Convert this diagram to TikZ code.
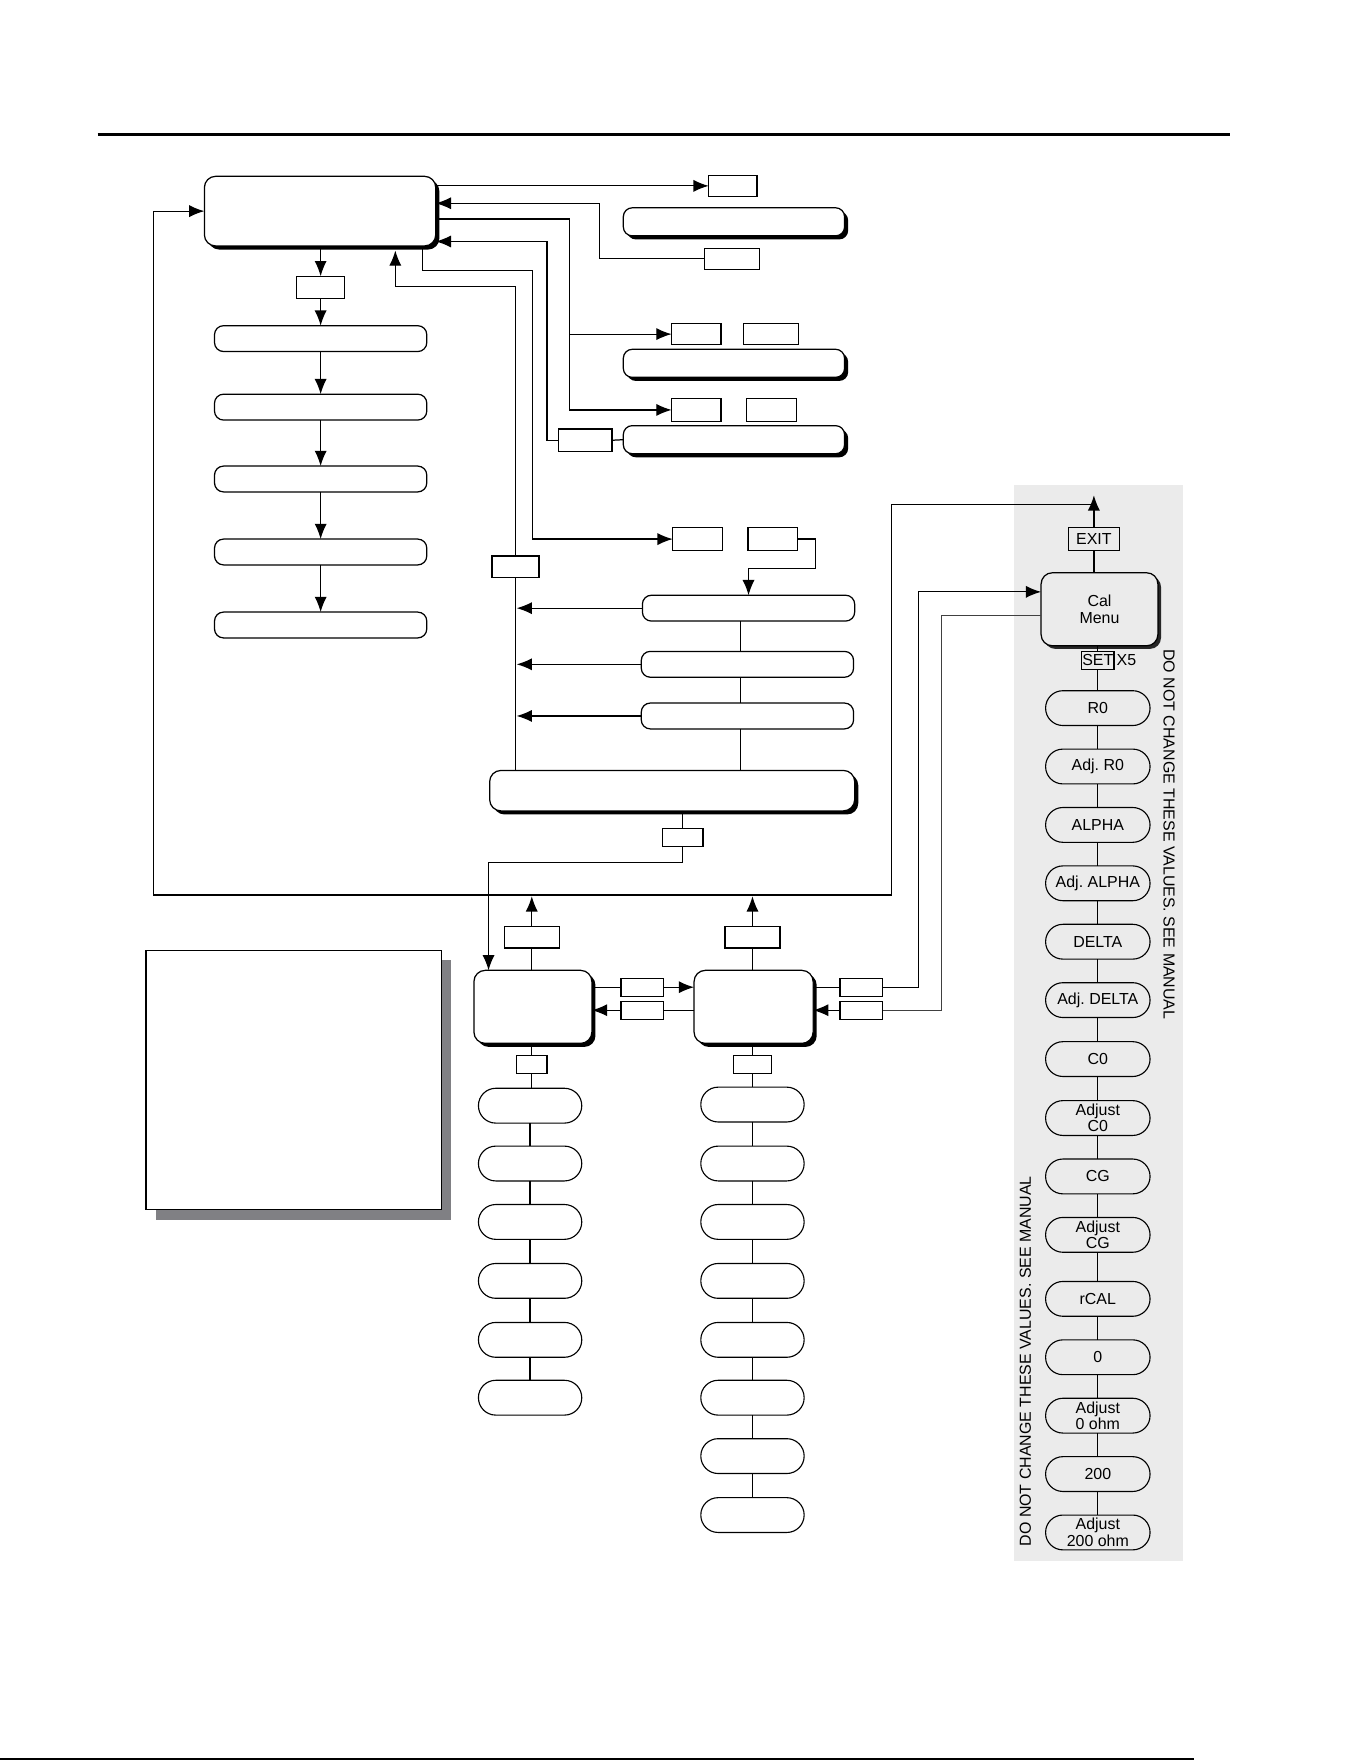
\documentclass[tikz,border=0pt]{standalone}
\usepackage{fontspec}
\setmainfont{Liberation Sans}
\usetikzlibrary{arrows.meta,shadows}
\definecolor{pg}{HTML}{EBEBEB}
\definecolor{shg}{HTML}{808084}
\frenchspacing
\begin{document}
\begin{tikzpicture}[x=0.5pt,y=-0.5pt,
  every node/.style={font=\fontsize{7.1}{7.3}\selectfont, inner sep=0pt, outer sep=0pt},
  ln/.style={line width=0.55pt, black},
  arr/.style={ln, -{Latex[length=6.8pt,width=5.4pt]}},
  sq/.style={draw, line width=0.55pt, fill=white},
  rbox/.style={draw, line width=0.55pt, fill=white, rounded corners=4pt},
  sbox/.style={rbox, drop shadow={shadow xshift=1.6pt, shadow yshift=-1.6pt, fill=black, opacity=1}},
  oval/.style={draw, line width=0.5pt, fill=white, rounded corners=7.7pt, minimum width=46pt, minimum height=15.5pt, align=center},
  poval/.style={oval, fill=pg, minimum width=46.5pt},
]
\useasboundingbox (0,0) rectangle (1212,1568);
% rules
\draw[line width=1.4pt] (87,120) -- (1095,120);
\draw[line width=0.9pt] (0,1566.5) -- (1063,1566.5);

% ---------------- top left column ----------------
\node[sbox, rounded corners=5pt, minimum width=103pt, minimum height=31pt] (A) at (285,188) {};
\node[sq, minimum width=21.5pt, minimum height=10pt] (B1) at (285.5,256) {};
\foreach \n/\y in {R1/301.5,R2/362.5,R3/426.5,R4/491.5,R5/556.5}
  \node[rbox, minimum width=94.5pt, minimum height=11.5pt] (\n) at (285.5,\y) {};
\draw[arr] (A.south -| B1) -- (B1.north);
\draw[arr] (B1.south) -- (R1.north);
\draw[arr] (R1.south) -- (R2.north);
\draw[arr] (R2.south) -- (R3.north);
\draw[arr] (R3.south) -- (R4.north);
\draw[arr] (R4.south) -- (R5.north);

% ---------------- top right group ----------------
\node[sq, minimum width=21.5pt, minimum height=9.5pt] (T1) at (652.5,165.5) {};
\node[sbox, minimum width=98.5pt, minimum height=12.5pt] (W1) at (653.5,197.5) {};
\node[sq, minimum width=24.5pt, minimum height=9.5pt] (T2) at (651.5,230.5) {};
\node[sq, minimum width=22pt, minimum height=9.5pt] (P1) at (620,297.5) {};
\node[sq, minimum width=24.5pt, minimum height=9.5pt] (P2) at (686.5,297.5) {};
\node[sbox, minimum width=98.5pt, minimum height=12.5pt] (W2) at (653.5,323.5) {};
\node[sq, minimum width=22pt, minimum height=10pt] (Q1) at (620,365) {};
\node[sq, minimum width=22pt, minimum height=10pt] (Q2) at (687,365) {};
\node[sbox, minimum width=98.5pt, minimum height=12.5pt] (W3) at (653.5,391.5) {};
\node[sq, minimum width=24pt, minimum height=10pt] (Q3) at (521,392) {};

\draw[arr] (A.east |- T1.west) -- (T1.west);
\draw[arr] (T2.west) -| (534,181) -- (A.east |- 534,181);
\draw[arr] (A.east |- 0,195) -| (507,365) -- (Q1.west);
\draw[arr] (507,297.5) -- (P1.west);
\draw[ln] (W3.west) -- (Q3.east);
\draw[arr] (Q3.west) -| (487,215) -- (A.east |- 487,215);

% ---------------- middle group ----------------
\node[sq, minimum width=22pt, minimum height=10pt] (S1) at (621,480) {};
\node[sq, minimum width=22pt, minimum height=10pt] (S2) at (688,480) {};
\node[sq, minimum width=21pt, minimum height=9.5pt] (L1) at (459,504.5) {};
\node[rbox, minimum width=94.5pt, minimum height=11.5pt] (RR1) at (666.5,541.5) {};
\node[rbox, minimum width=94.5pt, minimum height=11.5pt] (RR2) at (665.5,591.5) {};
\node[rbox, minimum width=94.5pt, minimum height=11.5pt] (RR3) at (665.5,637.5) {};
\node[sbox, rounded corners=5pt, minimum width=162.5pt, minimum height=18pt] (BB) at (598.5,704) {};
\node[sq, minimum width=18pt, minimum height=8pt] (U1) at (608,746) {};
\coordinate (vx) at (659,0);

\draw[arr] (376,219) |- (474,241) -- (474,480) -- (S1.west);
\draw[arr] (S2.east) -| (726,506) -| (RR1.north);
\draw[ln] (BB.north -| L1.south) -- (L1.south);
\draw[arr] (L1.north) |- (352,255) -- (352,223);
\draw[arr] (RR1.west) -- (RR1.west -| 460,0);
\draw[arr] (RR2.west) -- (RR2.west -| 460,0);
\draw[arr] (RR3.west) -- (RR3.west -| 460,0);
\draw[ln] (RR1.south -| vx) -- (RR2.north -| vx);
\draw[ln] (RR2.south -| vx) -- (RR3.north -| vx);
\draw[ln] (RR3.south -| vx) -- (BB.north -| vx);
\draw[ln] (BB.south -| U1) -- (U1.north);

% ---------------- bottom group ----------------
\node[draw, line width=0.55pt, fill=white, minimum width=131.5pt, minimum height=115.5pt,
  drop shadow={shadow xshift=4.5pt, shadow yshift=-4.5pt, fill=shg, opacity=1}] (N) at (261.5,961.5) {};
\node[sbox, rounded corners=5pt, minimum width=52.5pt, minimum height=32.5pt] (C1) at (474.5,896.5) {};
\node[sbox, rounded corners=5pt, minimum width=53pt, minimum height=32.5pt] (C2) at (671,896.5) {};
\node[sq, minimum width=24.5pt, minimum height=9.5pt] (E1) at (473.5,834.5) {};
\node[sq, minimum width=24.5pt, minimum height=9.5pt] (E2) at (670,834.5) {};
\node[sq, minimum width=19pt, minimum height=8pt] (M1) at (572,879) {};
\node[sq, minimum width=19pt, minimum height=8pt] (M2) at (572,899.5) {};
\node[sq, minimum width=19pt, minimum height=8pt] (M3) at (767,879) {};
\node[sq, minimum width=19pt, minimum height=8pt] (M4) at (767,899.5) {};
\node[sq, minimum width=13.5pt, minimum height=8pt] (D1) at (473.5,948) {};
\node[sq, minimum width=17pt, minimum height=8pt] (D2) at (670,948) {};
\foreach \n/\y in {1/984.5,2/1036,3/1088,4/1140.5,5/1193,6/1244.5}
  \node[oval] (LO\n) at (472,\y) {};
\foreach \n/\y in {1/983.5,2/1036,3/1088,4/1140.5,5/1193,6/1244.5,7/1296.5,8/1349}
  \node[oval] (RO\n) at (670,\y) {};

\draw[arr] (U1.south) |- (435,768) -- (C1.north -| 435,0);
\draw[ln] (C1.north -| E1) -- (E1.south);
\draw[arr] (E1.north) -- (E1.north |- 0,798);
\draw[ln] (C2.north -| E2) -- (E2.south);
\draw[arr] (E2.north) -- (E2.north |- 0,798);
\draw[ln] (C1.east |- M1) -- (M1.west);
\draw[arr] (M1.east) -- (C2.west |- M1);
\draw[ln] (C2.west |- M2) -- (M2.east);
\draw[arr] (M2.west) -- (C1.east |- M2);
\draw[ln] (C1.south -| D1) -- (D1.north);
\draw[ln] (D1.south) -- (LO1.north -| D1);
\draw[ln] (C2.south -| D2) -- (D2.north);
\draw[ln] (D2.south) -- (RO1.north -| D2);
\foreach \a/\b in {1/2,2/3,3/4,4/5,5/6} \draw[ln] (LO\a.south) -- (LO\b.north);
\foreach \a/\b in {1/2,2/3,3/4,4/5,5/6,6/7,7/8} \draw[ln] (RO\a.south) -- (RO\b.north);

% ---------------- calibration panel ----------------
\fill[pg] (903,432) rectangle (1053,1390);
\node[draw, line width=0.5pt, fill=pg, minimum width=23pt, minimum height=10pt] (EXIT) at (974,480) {EXIT};
\node[draw, line width=0.55pt, fill=pg, rounded corners=5pt, minimum width=52pt, minimum height=32.5pt, align=center,
  drop shadow={shadow xshift=1.4pt, shadow yshift=-1.4pt, fill=black!85, opacity=1}] (Cal) at (979,542.5) {Cal\\Menu};
\node[draw, line width=0.5pt, inner xsep=0.3pt, minimum height=8pt] (SET) at (977.5,588) {SET};
\node[anchor=west] (X5) at (SET.east) {\,X5};
\foreach \n/\y/\t in {1/630.5/R0, 2/682.5/Adj. R0, 3/734.5/ALPHA, 4/786.5/Adj. ALPHA, 5/838.5/DELTA,
  6/890.5/Adj. DELTA, 7/943/C0, 8/995.5/Adjust\\C0, 9/1047.5/CG, 10/1099.5/Adjust\\CG,
  11/1156.5/rCAL, 12/1208.5/0, 13/1260.5/Adjust\\0 ohm, 14/1312.5/200, 15/1364.5/Adjust\\200 ohm}
  \node[poval] (PO\n) at (977.5,\y) {\t};
\node[rotate=-90] (vt1) at (1041,743) {DO NOT CHANGE THESE VALUES. SEE MANUAL};
\node[rotate=90] (vt2) at (913,1212) {DO NOT CHANGE THESE VALUES. SEE MANUAL};

\draw[ln] (Cal.north -| EXIT) -- (EXIT.south);
\draw[arr] (EXIT.north) -- (974,441);
\draw[ln] (Cal.south -| SET) -- (SET.north);
\draw[ln] (SET.south) -- (PO1.north);
\foreach \a/\b in {1/2,2/3,3/4,4/5,5/6,6/7,7/8,8/9,9/10,10/11,11/12,12/13,13/14,14/15}
  \draw[ln] (PO\a.south) -- (PO\b.north);

% return path to main box
\draw[arr] (974,449) -| (794,797) -| (137,188) -- (A.west);
% C2 <-> Cal Menu
\draw[ln] (C2.east |- M3) -- (M3.west);
\draw[arr] (M3.east) -| (818,527) -- (Cal.west |- 818,527);
\draw[ln, black!75] (Cal.west |- 838,548) -| (838,899.5) -- (M4.east);
\draw[arr] (M4.west) -- (C2.east |- M4);
\end{tikzpicture}
\end{document}
